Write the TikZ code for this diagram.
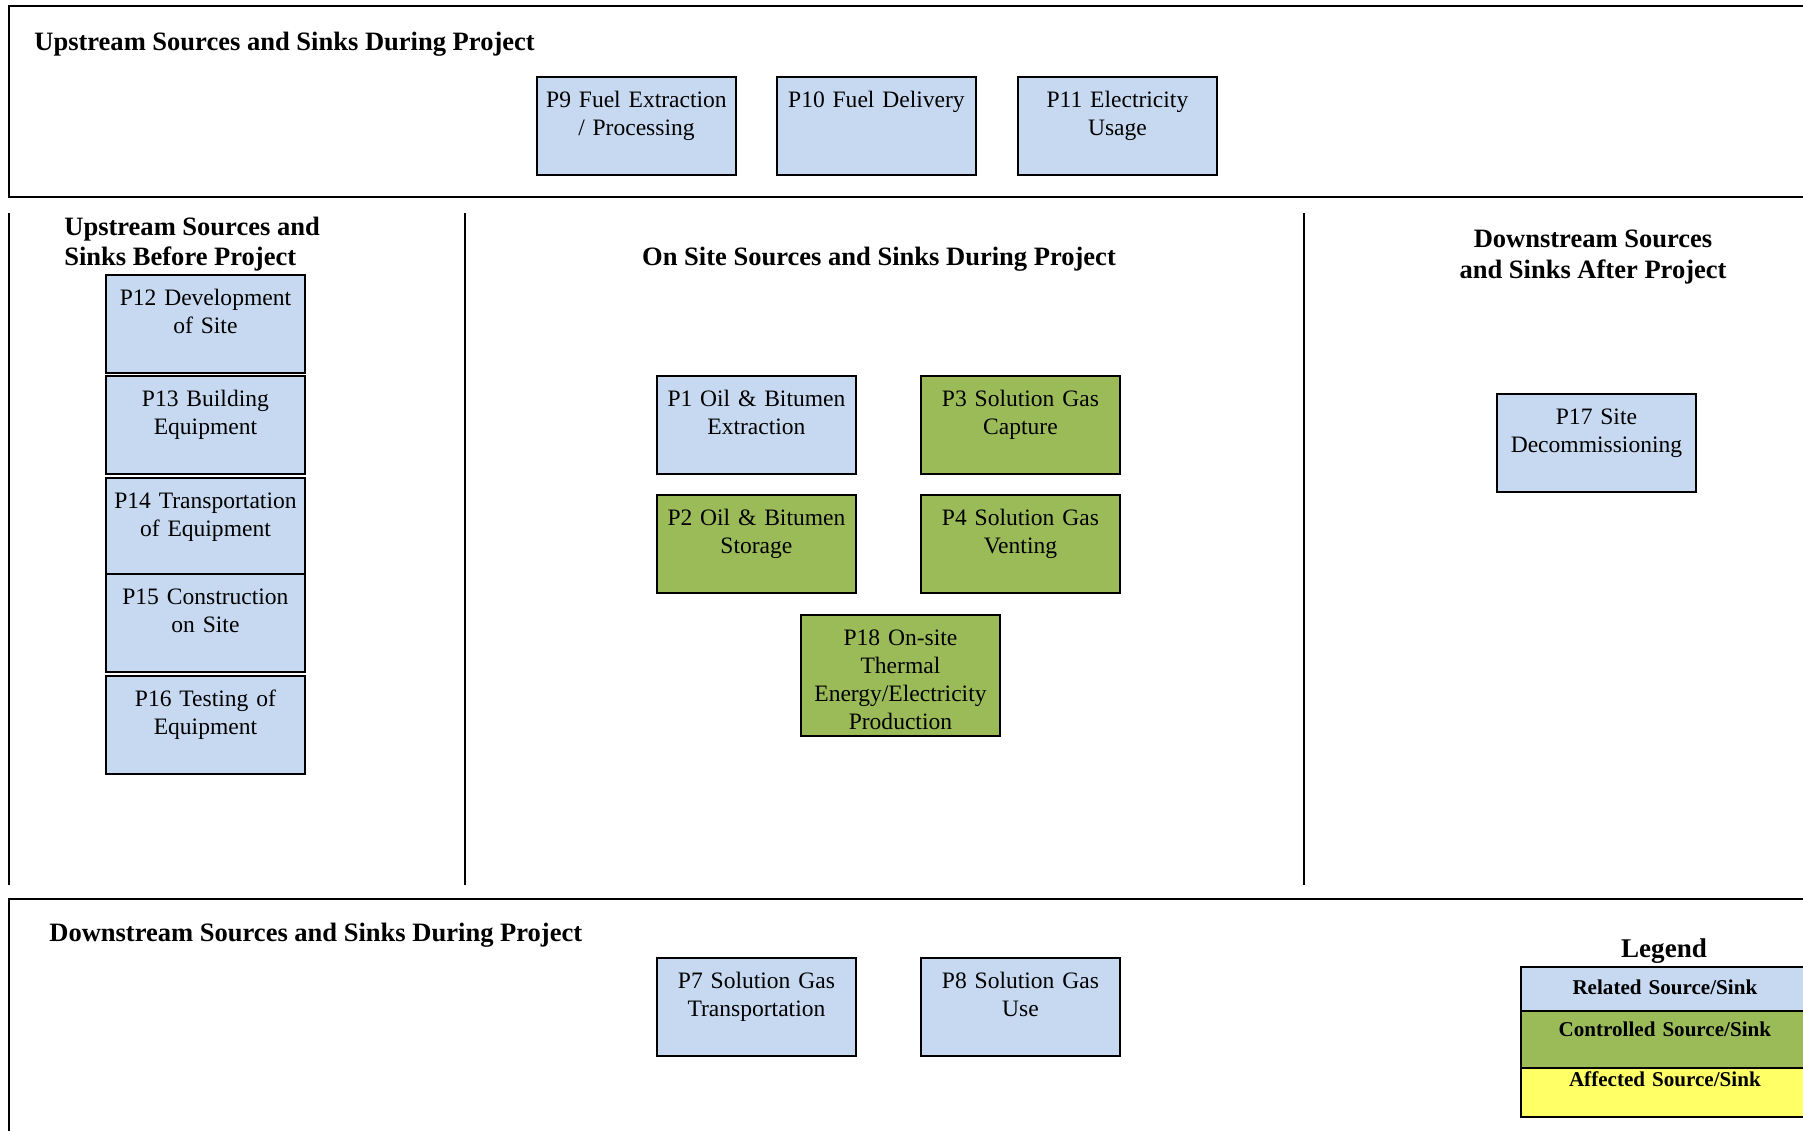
\documentclass[tikz,border=0pt]{standalone}
\usepackage{fontspec}
\setmainfont{Liberation Serif}
\usetikzlibrary{positioning}

\definecolor{relblue}{RGB}{198,217,240}
\definecolor{ctlgreen}{RGB}{155,187,89}
\definecolor{affyellow}{RGB}{255,255,102}

\tikzset{
  srcbox/.style={draw, line width=1.1pt, rectangle, anchor=north west, inner sep=0pt,
    minimum width=3.98cm, text width=3.9cm, align=center,
    font=\fontsize{13.4}{15.8}\selectfont, text height=0.62cm, text depth=1.34cm},
  related/.style={srcbox, fill=relblue},
  controlled/.style={srcbox, fill=ctlgreen},
  frame/.style={line width=1pt},
  heading/.style={font=\fontsize{15.1}{17.2}\selectfont\bfseries, inner sep=0pt},
  legendbox/.style={draw, line width=1pt, anchor=north west, inner sep=0pt, minimum width=5.76cm,
    text width=5.7cm, align=center, font=\fontsize{12}{14}\selectfont\bfseries}
}

\begin{document}
\begin{tikzpicture}[x=0.02cm, y=-0.02cm]
\useasboundingbox (0,0) rectangle (1803,1130);
\draw[frame] (1820,6) -- (9,6) -- (9,197) -- (1820,197);
\draw[frame] (1820,899) -- (9,899) -- (9,1140);
\coordinate (v1a) at (9,213); \coordinate (v1b) at (9,885);
\coordinate (v2a) at (465,213); \coordinate (v2b) at (465,885);
\coordinate (v3a) at (1304,213); \coordinate (v3b) at (1304,885);
\draw[frame] (v1a) -- (v1b);
\draw[frame] (v2a) -- (v2b);
\draw[frame] (v3a) -- (v3b);

\node[heading, anchor=west] (uphead) at (34,44) {Upstream Sources and Sinks During Project};
\node[heading, anchor=west, align=left] (prehead) at (64,244) {Upstream Sources and\\Sinks Before Project};
\node[heading] (sitehead) at (879,259) {On Site Sources and Sinks During Project};
\node[heading, align=center] (afterhead) at (1593,257) {Downstream Sources\\and Sinks After Project};
\node[heading, anchor=west] (downhead) at (49,935) {Downstream Sources and Sinks During Project};

\node[related] (p9) at (536,76) {P9 Fuel Extraction\\/ Processing};
\node[related] (p10) at (776,76) {P10 Fuel Delivery};
\node[related] (p11) at (1017,76) {P11 Electricity\\Usage};

\node[related] (p12) at (105,274) {P12 Development\\of Site};
\node[related] (p13) at (105,375) {P13 Building\\Equipment};
\node[related] (p14) at (105,477) {P14 Transportation\\of Equipment};
\node[related] (p15) at (105,573) {P15 Construction\\on Site};
\node[related] (p16) at (105,675) {P16 Testing of\\Equipment};

\node[related] (p1) at (656,375) {P1 Oil \& Bitumen\\Extraction};
\node[controlled] (p3) at (920,375) {P3 Solution Gas\\Capture};
\node[controlled] (p2) at (656,494) {P2 Oil \& Bitumen\\Storage};
\node[controlled] (p4) at (920,494) {P4 Solution Gas\\Venting};
\node[controlled, text depth=1.80cm] (p18) at (800,614) {P18 On-site\\Thermal\\Energy/Electricity\\Production};

\node[related] (p17) at (1496,393) {P17 Site\\Decommissioning};

\node[related] (p7) at (656,957) {P7 Solution Gas\\Transportation};
\node[related] (p8) at (920,957) {P8 Solution Gas\\Use};

\node[font=\fontsize{15.4}{17}\selectfont\bfseries] (leghead) at (1664,951) {Legend};
\node[legendbox, fill=relblue, text height=0.56cm, text depth=0.32cm] (legrel) at (1520,966) {Related Source/Sink};
\node[legendbox, fill=ctlgreen, text height=0.52cm, text depth=0.62cm] (legctl) at (1520,1010) {Controlled Source/Sink};
\node[legendbox, fill=affyellow, text height=0.38cm, text depth=0.60cm] (legaff) at (1520,1067) {Affected Source/Sink};
\end{tikzpicture}
\end{document}
